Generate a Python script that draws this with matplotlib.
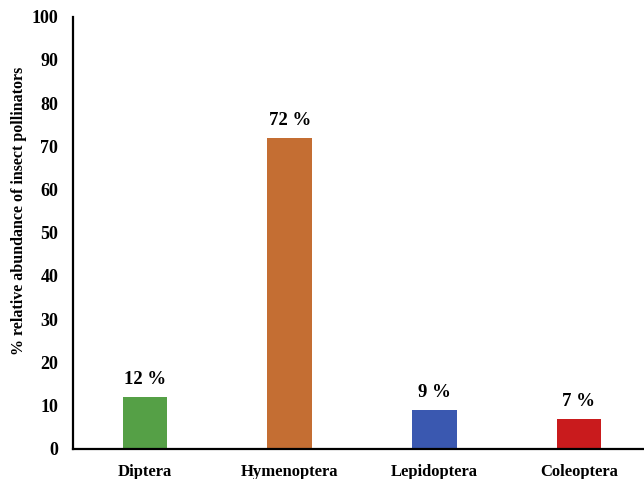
import matplotlib.pyplot as plt

orders = ["Diptera", "Hymenoptera", "Lepidoptera", "Coleoptera"]
abundance = [12, 72, 9, 7]
colors = ["#55a046", "#c46e33", "#3a58b0", "#c91b1d"]
yticks = list(range(0, 101, 10))

plt.rcParams['font.family'] = ['Liberation Serif', 'DejaVu Serif']
plt.rcParams['font.weight'] = 'bold'

fig = plt.figure(figsize=(6.44, 4.79), dpi=100)
ax = fig.add_axes([0.113, 0.063, 0.887, 0.902])

x = range(len(orders))
bars = ax.bar(x, abundance, width=0.31, color=colors)
for b, v in zip(bars, abundance):
    ax.text(b.get_x() + b.get_width() / 2, v + 2.0, f"{v} %",
            ha='center', va='bottom', fontsize=13.5, fontweight='bold')

ax.set_xlim(-0.5, 3.45)
ax.set_ylim(0, 100)
ax.set_yticks(yticks)
ax.set_xticks(list(x))
ax.tick_params(axis='both', length=0, labelsize=13)
ax.set_xticklabels(orders, fontsize=12, fontweight='bold')
ax.tick_params(axis='x', pad=11)
ax.tick_params(axis='y', pad=10.5)
ax.set_ylabel("% relative abundance of insect pollinators", fontsize=11.5,
              fontweight='bold')
ax.yaxis.set_label_coords(-0.08, 0.55)

for s in ['top', 'right']:
    ax.spines[s].set_visible(False)
for s in ['left', 'bottom']:
    ax.spines[s].set_linewidth(1.6)

fig.savefig("out.png", dpi=100)
